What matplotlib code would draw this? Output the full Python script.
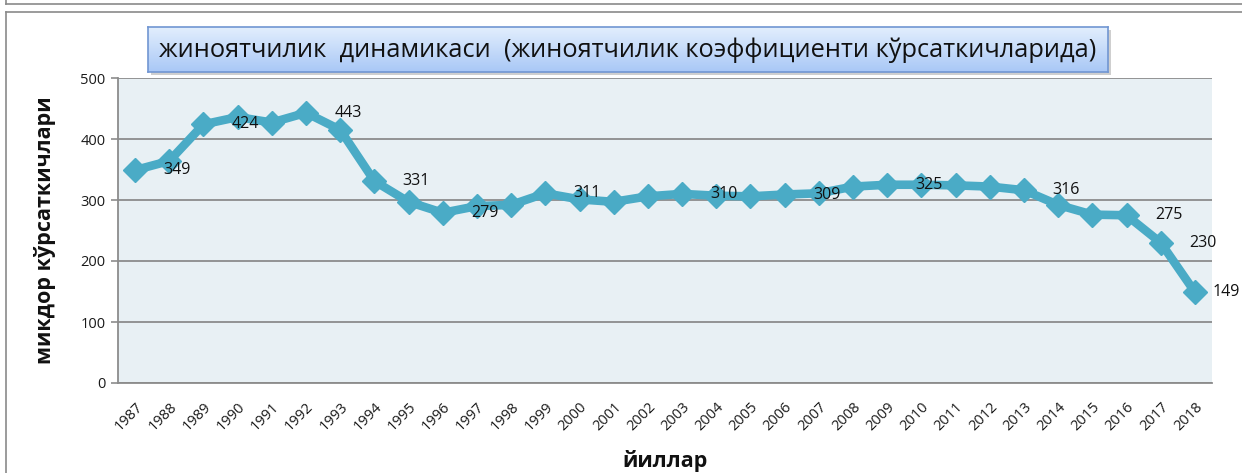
import matplotlib
matplotlib.use("Agg")
import matplotlib.pyplot as plt
import numpy as np
from matplotlib.patches import Rectangle
from matplotlib.lines import Line2D

years = [str(y) for y in range(1987, 2019)]
values = [349, 364, 424, 436, 427, 443, 415, 331, 297, 279, 290, 292, 311, 301,
          297, 306, 310, 307, 306, 309, 311, 322, 325, 325, 324, 322, 316, 292,
          276, 275, 230, 149]
label_years = ["1987", "1989", "1992", "1994", "1996", "1999", "2003", "2006",
               "2009", "2013", "2016", "2017", "2018"]
label_texts = ["349", "424", "443", "331", "279", "311", "310", "309", "325",
               "316", "275", "230", "149"]

title = "жиноятчилик  динамикаси  (жиноятчилик коэффициенти кўрсаткичларида)"
ylabel = "микдор кўрсаткичлари"
xlabel = "йиллар"

FONT = ["Open Sans", "DejaVu Sans"]
plt.rcParams["font.family"] = FONT

W, H = 1242, 473
fig = plt.figure(figsize=(W / 100, H / 100), dpi=100)
fig.patch.set_facecolor("white")

def fx(px):
    return px / W

def fy(py):
    return 1 - py / H

PX = 0.72  # points per pixel at dpi 100

# outer frames
frame_col = "#8a8a8a"
fig.add_artist(Line2D([fx(6), 1], [fy(4), fy(4)], color=frame_col, lw=1.2))
fig.add_artist(Line2D([fx(6), fx(6)], [fy(4), 1], color=frame_col, lw=1.2))
fig.add_artist(Line2D([fx(6), 1], [fy(12), fy(12)], color=frame_col, lw=1.2))
fig.add_artist(Line2D([fx(6), fx(6)], [fy(12), 0], color=frame_col, lw=1.2))

# main axes
L, R, T, B = 118, 1212, 78, 383
ax = fig.add_axes([fx(L), fy(B), fx(R - L), (B - T) / H])
ax.set_facecolor("#e8f0f4")
x = np.arange(len(years))
ax.set_xlim(-0.5, len(years) - 0.5)
ax.set_ylim(0, 500)
ax.set_yticks([0, 100, 200, 300, 400, 500])
ax.yaxis.grid(True, color="#8c8c8c", lw=1.3)
ax.set_axisbelow(True)
for s in ["top", "right"]:
    ax.spines[s].set_visible(False)
ax.spines["left"].set_color("#8c8c8c")
ax.spines["bottom"].set_color("#8c8c8c")
ax.spines["left"].set_linewidth(1.3)
ax.spines["bottom"].set_linewidth(1.3)
ax.tick_params(axis="y", length=5, width=1.2, color="#8c8c8c", labelsize=10.5,
               pad=4, labelcolor="#1a1a1a")
ax.tick_params(axis="x", length=0, labelsize=10.5, pad=12, labelcolor="#1a1a1a")
ax.set_xticks(x)
ax.set_xticklabels(years, rotation=45, ha="right", va="top",
                   rotation_mode="anchor")

line_col = "#4aabc6"
ax.plot(x, values, color=line_col, lw=6.2, marker="D", markersize=12.5,
        markeredgecolor=line_col, markerfacecolor=line_col,
        solid_joinstyle="miter", zorder=3)

for yr, t in zip(label_years, label_texts):
    i = years.index(yr)
    dx = 42 if i < len(years) - 1 else 31
    ax.annotate(t, (x[i], values[i]), xytext=(dx * PX, 0),
                textcoords="offset points", ha="center", va="center",
                fontsize=11.5, color="#111111", zorder=4)

fig.text(fx(45), fy(230), ylabel, fontsize=15.5, fontweight="bold",
         rotation=90, ha="center", va="center", color="#111111")
fig.text(fx(665), fy(461), xlabel, fontsize=15.5, fontweight="bold",
         ha="center", va="center", color="#111111")

# title box with gradient
tb_l, tb_r, tb_t, tb_b = 148, 1108, 27, 72
fig.add_artist(Rectangle((fx(tb_l + 3), fy(tb_b + 3)), fx(tb_r - tb_l),
                         (tb_b - tb_t) / H, transform=fig.transFigure,
                         facecolor="#b0b0b0", edgecolor="none", alpha=0.6,
                         zorder=5))
tax = fig.add_axes([fx(tb_l), fy(tb_b), fx(tb_r - tb_l), (tb_b - tb_t) / H],
                   zorder=6)
top_c = np.array([0xe2, 0xee, 0xfd]) / 255
bot_c = np.array([0xa9, 0xc8, 0xf6]) / 255
tgrad = np.linspace(0, 1, 64)[:, None]
img = top_c[None, None, :] * (1 - tgrad[:, :, None]) + bot_c[None, None, :] * tgrad[:, :, None]
img = np.repeat(img, 2, axis=1)
tax.imshow(img, aspect="auto", extent=[0, 1, 0, 1], origin="upper")
tax.set_xlim(0, 1)
tax.set_ylim(0, 1)
tax.set_xticks([])
tax.set_yticks([])
for s in tax.spines.values():
    s.set_color("#7196d2")
    s.set_linewidth(1.2)
tax.text(0.5, 0.48, title, ha="center", va="center", fontsize=18.3,
         color="#111111", transform=tax.transAxes)

fig.savefig("out.png", dpi=100, facecolor="white")
